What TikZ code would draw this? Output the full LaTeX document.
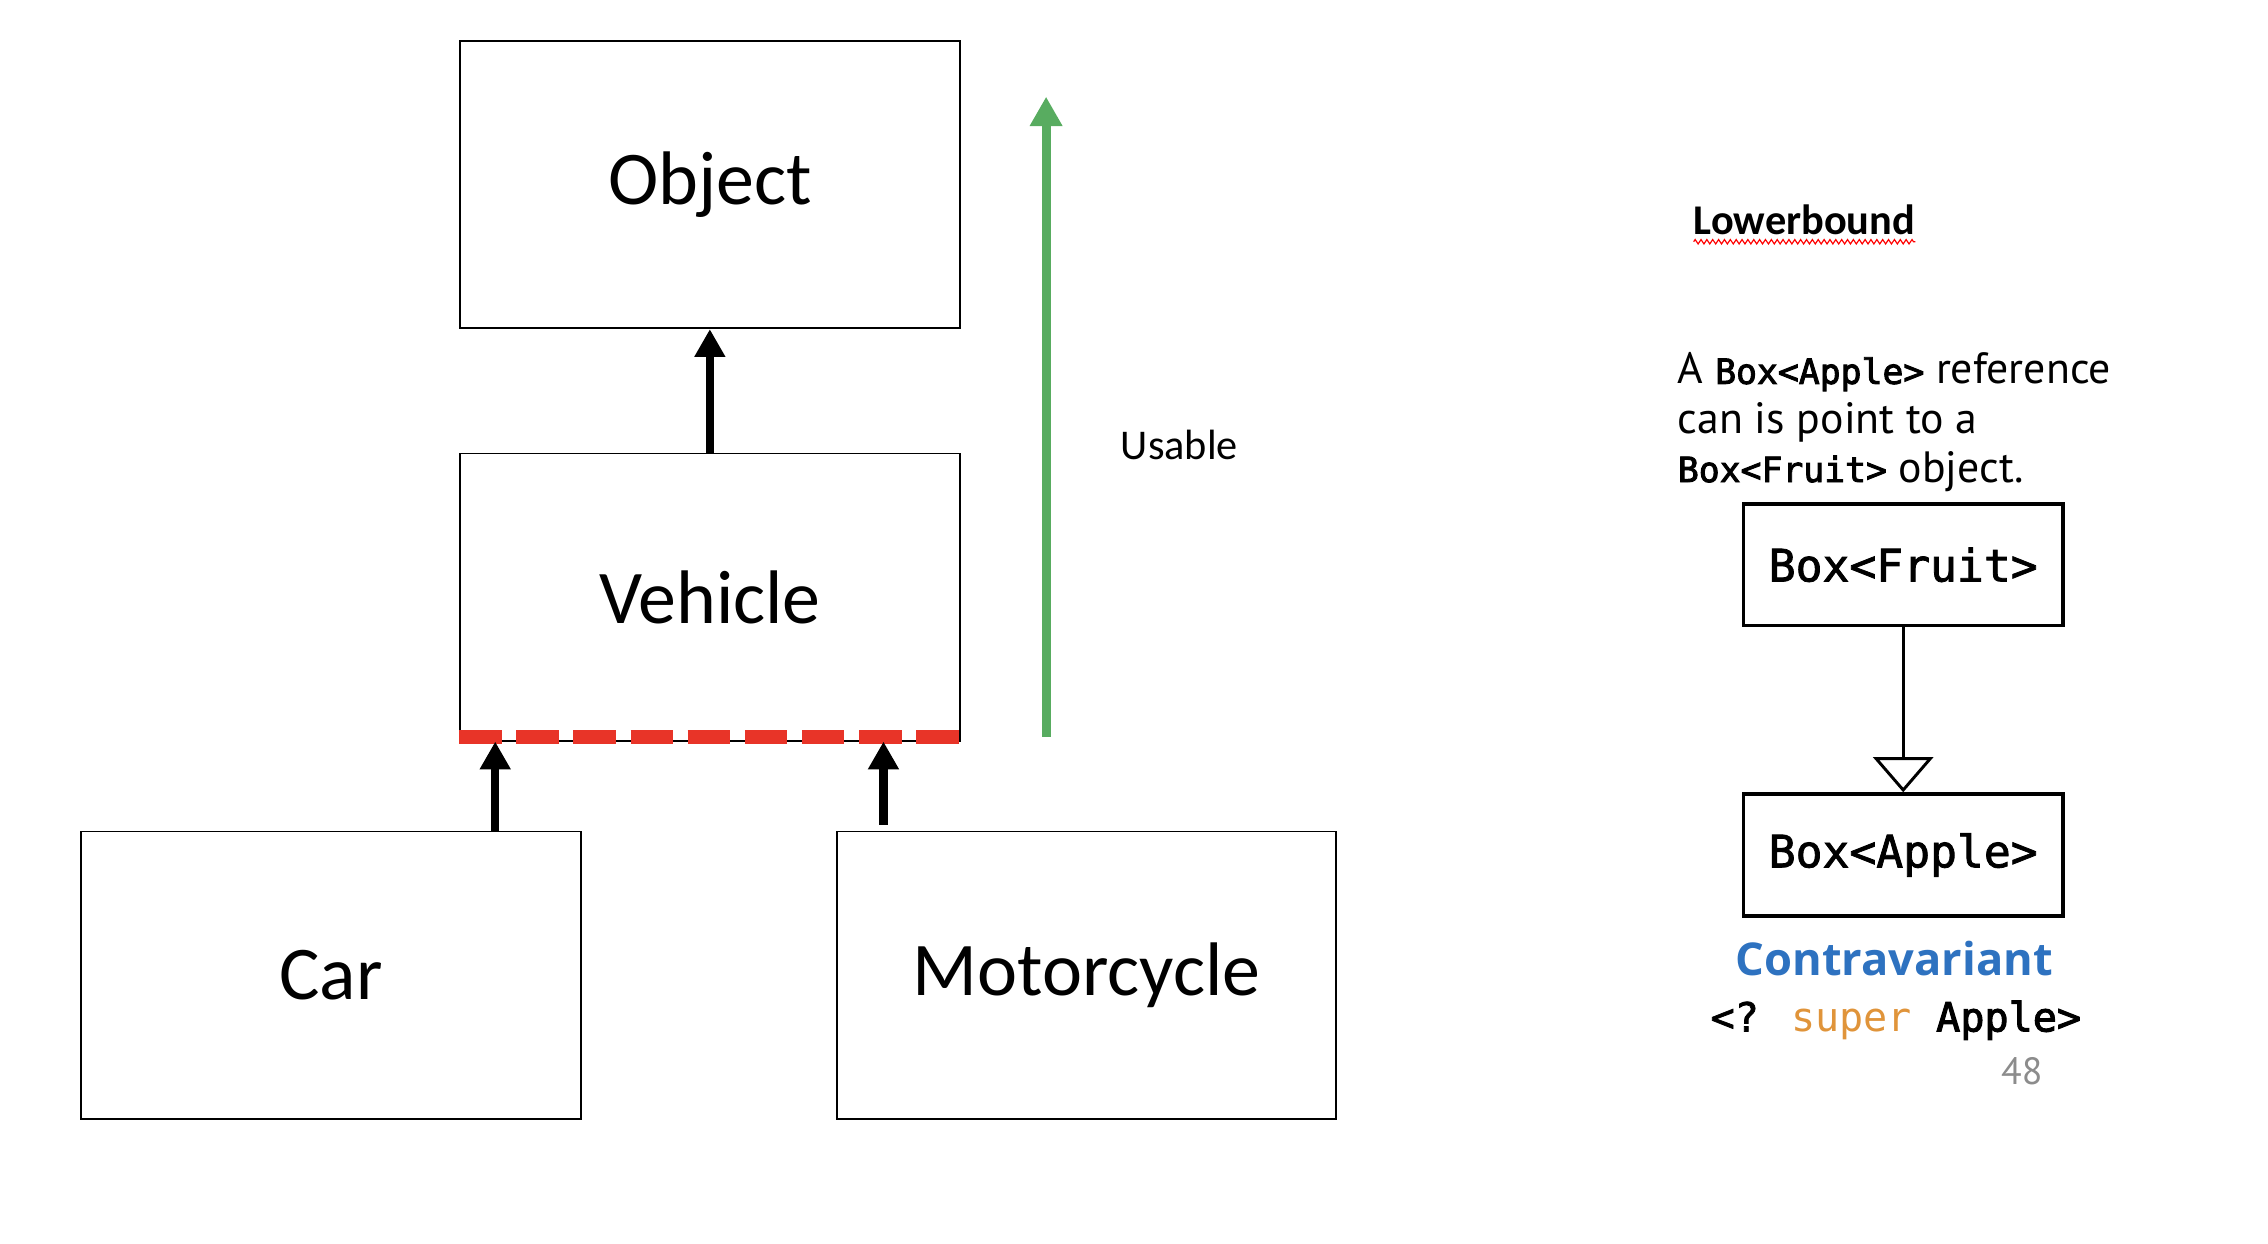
\documentclass[tikz,border=0pt]{standalone}
\usepackage{fontspec}
\setmainfont{Carlito}
\newfontfamily\ptsans{PT Sans}
\newfontfamily\opensans{Open Sans}
\newfontfamily\monofont{DejaVu Sans Mono}
\newfontfamily\monomed[FakeBold=1.8]{DejaVu Sans Mono}
\newfontfamily\monosemi[FakeBold=2.6]{DejaVu Sans Mono}
\usetikzlibrary{arrows.meta,decorations.pathmorphing}
\definecolor{dashred}{RGB}{232,52,40}
\definecolor{usegreen}{RGB}{88,172,96}
\definecolor{cblue}{RGB}{46,114,192}
\definecolor{sorange}{RGB}{224,148,58}
\definecolor{pgray}{RGB}{140,140,140}
\newcommand{\cdb}[1]{{\monosemi\fontsize{23.8}{28}\selectfont #1}}
\begin{document}
\begin{tikzpicture}[x=1bp,y=-1bp,
  classbox/.style={draw=black,line width=1.3bp,minimum width=341bp,minimum height=196bp,inner sep=0pt,font=\fontsize{52}{60}\selectfont},
  genbox/.style={draw=black,line width=2.5bp,minimum width=218bp,minimum height=83bp,inner sep=0pt,font=\monomed\fontsize{30.6}{36}\selectfont},
  inherit/.style={draw=black,line width=5.5bp,-{Triangle[width=20bp,length=19bp]}},
  para/.style={anchor=base west,inner sep=0pt,font=\ptsans\fontsize{30}{34}\selectfont}
]
\useasboundingbox (0,0) rectangle (1548,849);

% class hierarchy
\node[classbox] (object) at (484.5,126) {Object};
\node[classbox] (vehicle) at (484.5,407.5) {Vehicle};
\node[classbox] (car) at (226,665.5) {Car};
\node[classbox] (moto) at (741.5,665.5) {Motorcycle};

\draw[dashred,line width=9.5bp,dash pattern=on 29bp off 10bp]
  ([yshift=3bp]vehicle.south west) -- ([yshift=3bp]vehicle.south east);

\draw[inherit] (vehicle.north) -- (object.south);
\coordinate (carA) at ([xshift=112bp]car.north);
\coordinate (vehA) at (carA |- vehicle.south);
\draw[inherit] (carA) -- (vehA);
\coordinate (motoA) at ([xshift=-138.5bp,yshift=4bp]moto.north);
\coordinate (vehB) at (motoA |- vehicle.south);
\draw[inherit] (motoA) -- (vehB);

% usable arrow
\coordinate (gbot) at (714,503);
\coordinate (gtop) at (714,66);
\draw[usegreen,line width=6bp,-{Triangle[width=21bp,length=20bp]}] (gbot) -- (gtop);
\node[font=\fontsize{29}{34}\selectfont] (usable) at (805,304) {Usable};

% right side
\node[anchor=base west,inner sep=0pt,font=\bfseries\fontsize{29}{34}\selectfont] (lb) at (1156,160) {Lowerbound};
\draw[red,line width=0.8bp,decorate,decoration={zigzag,amplitude=1.5bp,segment length=4bp}]
  ([yshift=-5bp]lb.base west) -- ([yshift=-5bp]lb.base east);

\node[para] (l1) at (1145,262) {A \cdb{Box<Apple>} reference};
\node[para] (l2) at (1145,296) {can is point to a};
\node[para] (l3) at (1145,329) {\cdb{Box<Fruit>} object.};

\node[genbox] (fruit) at (1299,385.5) {Box<Fruit>};
\node[genbox] (apple) at (1299,583.5) {Box<Apple>};
\draw[line width=2bp,-{Triangle[open,width=41bp,length=24bp,line width=2bp]}] (fruit.south) -- (apple.north);

\node[anchor=base,inner sep=0pt,text=cblue,font=\opensans\bfseries\fontsize{31}{36}\selectfont] (contra) at (1293,666) {Contravariant};
\node[anchor=base,inner sep=0pt,font=\monofont\fontsize{27.5}{32}\selectfont] (wild) at (1294,704) {{\monomed <?} \textcolor{sorange}{super} {\monosemi Apple>}};
\node[anchor=base,inner sep=0pt,text=pgray,font=\ptsans\fontsize{26}{30}\selectfont] (page) at (1380,740) {48};
\end{tikzpicture}
\end{document}
